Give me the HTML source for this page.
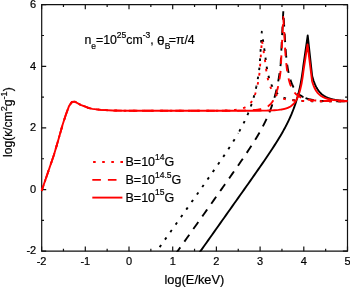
<!DOCTYPE html>
<html><head><meta charset="utf-8"><style>
html,body{margin:0;padding:0;background:#fff;}
svg{display:block;will-change:transform;}
text{font-family:"Liberation Sans",sans-serif;fill:#000;stroke:#000;stroke-width:0.2px;}
</style></head><body>
<svg width="350" height="287" viewBox="0 0 350 287">
<rect width="350" height="287" fill="#fff"/>
<defs><clipPath id="c"><rect x="40.6" y="4.7" width="307.9" height="247"/></clipPath></defs>
<path d="M41.7,4.7 H347.5 V251.2 H41.7 Z" fill="none" stroke="#111" stroke-width="1.2"/>
<path d="M41.60,251.2 v-4.6 M41.60,4.7 v4.6 M85.30,251.2 v-4.6 M85.30,4.7 v4.6 M129.00,251.2 v-4.6 M129.00,4.7 v4.6 M172.70,251.2 v-4.6 M172.70,4.7 v4.6 M216.40,251.2 v-4.6 M216.40,4.7 v4.6 M260.10,251.2 v-4.6 M260.10,4.7 v4.6 M303.80,251.2 v-4.6 M303.80,4.7 v4.6 M347.50,251.2 v-4.6 M347.50,4.7 v4.6 M63.45,251.2 v-2.4 M63.45,4.7 v2.4 M107.15,251.2 v-2.4 M107.15,4.7 v2.4 M150.85,251.2 v-2.4 M150.85,4.7 v2.4 M194.55,251.2 v-2.4 M194.55,4.7 v2.4 M238.25,251.2 v-2.4 M238.25,4.7 v2.4 M281.95,251.2 v-2.4 M281.95,4.7 v2.4 M325.65,251.2 v-2.4 M325.65,4.7 v2.4 M41.6,251.18 h4.6 M347.5,251.18 h-4.6 M41.6,189.56 h4.6 M347.5,189.56 h-4.6 M41.6,127.94 h4.6 M347.5,127.94 h-4.6 M41.6,66.32 h4.6 M347.5,66.32 h-4.6 M41.6,4.70 h4.6 M347.5,4.70 h-4.6 M41.6,220.37 h2.4 M347.5,220.37 h-2.4 M41.6,158.75 h2.4 M347.5,158.75 h-2.4 M41.6,97.13 h2.4 M347.5,97.13 h-2.4 M41.6,35.51 h2.4 M347.5,35.51 h-2.4" fill="none" stroke="#111" stroke-width="1.2"/>
<g clip-path="url(#c)" fill="none" stroke-width="1.9" stroke-linejoin="round">
<path d="M146.51,265.63 L148.15,263.32 L149.78,261.01 L151.42,258.70 L153.06,256.38 L154.70,254.07 L156.34,251.76 L157.98,249.45 L159.62,247.14 L161.26,244.83 L162.90,242.52 L164.54,240.20 L166.18,237.89 L167.81,235.58 L169.45,233.27 L171.09,230.96 L172.73,228.65 L174.37,226.33 L176.01,224.02 L177.65,221.71 L179.29,219.40 L180.93,217.09 L182.57,214.77 L184.21,212.46 L185.85,210.15 L187.48,207.83 L189.12,205.52 L190.76,203.20 L192.40,200.89 L194.04,198.57 L195.68,196.26 L197.32,193.94 L198.96,191.62 L200.60,189.30 L202.24,186.98 L203.88,184.65 L205.52,182.33 L207.15,180.00 L208.79,177.66 L210.43,175.33 L212.07,172.99 L213.71,170.64 L215.35,168.28 L216.99,165.92 L218.63,163.55 L220.27,161.17 L221.91,158.77 L223.55,156.36 L225.19,153.92 L226.82,151.47 L228.46,148.98 L230.10,146.47 L231.74,143.91 L233.38,141.31 L235.02,138.65 L236.66,135.93 L236.95,135.43 L237.24,134.94 L237.53,134.44 L237.82,133.94 L238.12,133.44 L238.25,133.21" stroke="#000" stroke-dasharray="2.6 6.6" stroke-dashoffset="4.89"/>
<path d="M238.25,133.21 L238.41,132.93 L238.70,132.42 L238.99,131.91 L239.28,131.40 L239.57,130.88 L239.86,130.35 L240.15,129.83 L240.44,129.30 L240.74,128.76 L241.03,128.23 L241.32,127.69 L241.61,127.14 L241.90,126.59 L242.19,126.03 L242.48,125.47 L242.77,124.91 L243.07,124.34 L243.36,123.76 L243.65,123.18 L243.94,122.59 L244.23,122.00 L244.52,121.40 L244.81,120.80 L245.10,120.18 L245.39,119.56 L245.69,118.94 L245.98,118.31 L246.27,117.66 L246.56,117.01 L246.85,116.36 L247.14,115.69 L247.43,115.02 L247.72,114.33 L248.02,113.64 L248.31,112.93 L248.60,112.22 L248.89,111.49 L249.18,110.75 L249.47,110.00 L249.76,109.24 L250.05,108.46 L250.35,107.67 L250.64,106.87 L250.93,106.05 L251.22,105.21 L251.51,104.36 L251.80,103.48 L252.09,102.59 L252.38,101.68 L252.67,100.75 L252.97,99.80 L253.26,98.82 L253.55,97.82 L253.84,96.79 L254.13,95.74 L254.42,94.65 L254.71,93.53 L255.00,92.38 L255.30,91.19 L255.59,89.96 L255.88,88.68 L256.17,87.36 L256.32,86.64" stroke="#000" stroke-dasharray="2.6 6.6" stroke-dashoffset="7.23"/>
<path d="M256.32,86.64 L256.46,85.99 L256.75,84.57 L257.04,83.08 L257.33,81.53 L257.62,79.90 L257.92,78.20 L258.21,76.40 L258.50,74.50 L258.79,72.48 L259.08,70.33 L259.37,68.03 L259.66,65.55 L261.80,31.81 L265.34,56.19 L265.64,59.10 L265.95,61.67 L266.25,63.98 L266.55,66.06 L266.85,67.96 L267.15,69.69 L267.45,71.28 L267.75,72.75 L268.05,74.12 L268.35,75.38 L268.65,76.57 L268.95,77.68 L269.25,78.72 L269.55,79.70 L269.85,80.62 L270.16,81.50 L270.46,82.32 L270.76,83.10 L271.06,83.84 L271.36,84.55 L271.66,85.21 L271.96,85.85 L272.26,86.46 L272.56,87.04 L272.86,87.59 L273.16,88.11 L273.46,88.62 L273.76,89.10 L274.06,89.56 L274.37,90.00 L274.67,90.42 L274.97,90.83 L275.27,91.21 L275.57,91.59 L275.87,91.94 L276.17,92.29 L276.47,92.62 L276.77,92.93 L277.07,93.23 L277.37,93.53 L277.67,93.81 L277.97,94.08 L278.27,94.34 L278.57,94.59 L278.88,94.83 L279.18,95.06 L279.48,95.28 L279.78,95.50 L280.08,95.70 L280.38,95.90 L280.68,96.09 L280.98,96.28 L281.28,96.45 L281.58,96.63 L281.88,96.79 L282.18,96.95 L282.48,97.10 L282.78,97.25 L283.09,97.39 L283.39,97.53 L283.69,97.67 L283.99,97.79 L284.29,97.92 L284.59,98.04 L284.89,98.15 L285.19,98.26 L285.49,98.37 L285.79,98.47 L286.09,98.57 L286.39,98.67 L286.69,98.76 L286.99,98.85 L287.30,98.94 L287.60,99.02 L287.90,99.10 L288.20,99.18 L288.50,99.25 L288.80,99.32 L289.10,99.39 L290.09,99.61 L291.08,99.80 L292.07,99.97 L293.06,100.12 L294.05,100.25 L295.04,100.37 L296.03,100.47 L297.02,100.57 L298.01,100.65 L299.00,100.73 L299.99,100.79 L300.98,100.85 L301.97,100.90 L302.96,100.95 L303.95,100.99 L304.94,101.02 L305.93,101.06 L306.92,101.08 L307.91,101.11 L308.90,101.13 L309.89,101.15 L310.88,101.17 L311.87,101.18 L312.86,101.19 L313.85,101.20 L314.84,101.21 L315.83,101.22 L316.81,101.23 L317.80,101.23 L318.79,101.24 L319.78,101.24 L320.77,101.25 L321.76,101.25 L322.75,101.25 L323.74,101.25 L324.73,101.26 L325.72,101.26 L326.71,101.26 L327.70,101.26 L328.69,101.26 L329.68,101.26 L330.67,101.26 L331.66,101.26 L332.65,101.26 L333.64,101.26 L334.63,101.26 L335.62,101.26 L336.61,101.26 L337.60,101.26 L338.59,101.25 L339.58,101.25 L340.57,101.25 L341.56,101.25 L342.55,101.25 L343.54,101.25 L344.53,101.25 L345.52,101.25 L346.51,101.25 L347.50,101.25" stroke="#000" stroke-dasharray="2.6 6.6" stroke-dashoffset="1.62"/>
<path d="M168.61,263.87 L170.42,261.31 L172.23,258.75 L174.05,256.19 L175.86,253.63 L177.68,251.08 L179.49,248.52 L181.31,245.96 L183.12,243.40 L184.93,240.84 L186.75,238.28 L188.56,235.72 L190.38,233.17 L192.19,230.61 L194.01,228.05 L195.82,225.49 L197.63,222.93 L199.45,220.37 L201.26,217.81 L203.08,215.25 L204.89,212.69 L206.71,210.13 L208.52,207.57 L210.34,205.01 L212.15,202.45 L213.96,199.88 L215.78,197.32 L217.59,194.75 L219.41,192.19 L221.22,189.62 L223.04,187.05 L224.85,184.48 L226.66,181.90 L228.48,179.32 L230.29,176.74 L232.11,174.15 L233.92,171.55 L235.74,168.95 L237.55,166.34 L239.37,163.71 L241.18,161.08 L242.99,158.42 L244.81,155.75 L246.62,153.04 L248.44,150.31 L250.25,147.55 L252.07,144.74 L253.88,141.87 L255.69,138.94 L257.51,135.93 L257.80,135.43 L258.09,134.93 L258.39,134.43 L258.68,133.93 L258.97,133.43 L259.27,132.92 L259.56,132.40 L259.85,131.89 L260.14,131.37 L260.44,130.85 L260.73,130.32 L261.02,129.79 L261.31,129.26 L261.61,128.72 L261.90,128.18 L262.19,127.64 L262.49,127.09 L262.78,126.53 L263.07,125.97 L263.36,125.41 L263.66,124.84 L263.95,124.27 L264.24,123.69 L264.54,123.10 L264.83,122.51 L265.12,121.91 L265.41,121.31 L265.71,120.70 L266.00,120.09 L266.29,119.46 L266.59,118.83 L266.88,118.19 L267.17,117.55 L267.46,116.89 L267.76,116.23 L268.05,115.56 L268.34,114.88 L268.63,114.19 L268.93,113.49 L269.22,112.77 L269.51,112.05 L269.81,111.32 L270.10,110.57 L270.39,109.82 L270.68,109.05 L270.98,108.26 L271.27,107.46 L271.56,106.65 L271.86,105.82 L272.15,104.98 L272.44,104.11 L272.73,103.23 L273.03,102.33 L273.32,101.41 L273.61,100.47 L273.90,99.50 L274.20,98.51 L274.49,97.50 L274.78,96.45 L275.08,95.38 L275.37,94.28 L275.66,93.14 L275.95,91.97 L276.25,90.76 L276.54,89.51 L276.83,88.21 L277.13,86.86 L277.17,86.64" stroke="#000" stroke-dasharray="8.5 7" stroke-dashoffset="3.76"/>
<path d="M277.17,86.64 L277.42,85.47 L277.71,84.01 L278.00,82.49 L278.30,80.90 L278.59,79.24 L278.88,77.49 L279.18,75.64 L279.47,73.68 L279.76,71.60 L280.05,69.38 L280.35,66.99 L280.64,64.40 L283.30,11.17 L285.23,43.36 L285.54,48.29 L285.85,52.40 L286.17,55.91 L286.48,58.97 L286.79,61.65 L287.11,64.05 L287.42,66.21 L287.73,68.16 L288.04,69.94 L288.36,71.58 L288.67,73.08 L288.98,74.47 L289.30,75.77 L289.61,76.98 L289.92,78.10 L290.23,79.16 L290.55,80.15 L290.86,81.08 L291.17,81.96 L291.49,82.80 L291.80,83.58 L292.11,84.33 L292.42,85.03 L292.74,85.70 L293.05,86.34 L293.36,86.95 L293.68,87.53 L293.99,88.08 L294.30,88.60 L294.62,89.10 L294.93,89.58 L295.24,90.04 L295.55,90.48 L295.87,90.89 L296.18,91.29 L296.49,91.68 L296.81,92.04 L297.12,92.40 L297.43,92.73 L297.74,93.06 L298.06,93.37 L298.37,93.67 L298.68,93.95 L299.00,94.23 L299.31,94.49 L299.62,94.75 L299.93,94.99 L300.25,95.22 L300.56,95.45 L300.87,95.67 L301.19,95.87 L301.50,96.07 L301.81,96.27 L302.13,96.45 L302.44,96.63 L302.75,96.80 L303.06,96.97 L303.38,97.13 L303.39,97.13" stroke="#000" stroke-dasharray="8.5 7" stroke-dashoffset="10.19"/>
<path d="M303.39,97.13 L303.69,97.28 L304.00,97.43 L304.32,97.57 L304.63,97.71 L304.94,97.84 L305.25,97.96 L305.57,98.09 L305.88,98.20 L306.19,98.32 L306.51,98.43 L306.82,98.53 L307.13,98.63 L307.45,98.73 L307.76,98.82 L308.07,98.92 L308.38,99.00 L308.70,99.09 L309.01,99.17 L309.32,99.25 L309.64,99.32 L309.95,99.39 L310.59,99.53 L311.22,99.66 L311.86,99.78 L312.49,99.90 L313.13,100.00 L313.77,100.10 L314.40,100.18 L315.04,100.27 L315.68,100.34 L316.31,100.42 L316.95,100.48 L317.59,100.54 L318.22,100.60 L318.86,100.65 L319.50,100.70 L320.13,100.75 L320.77,100.79 L321.40,100.83 L322.04,100.86 L322.68,100.89 L323.31,100.93 L323.95,100.95 L324.59,100.98 L325.22,101.00 L325.86,101.03 L326.50,101.05 L327.13,101.07 L327.77,101.08 L328.41,101.10 L329.04,101.11 L329.68,101.13 L330.32,101.14 L330.95,101.15 L331.59,101.16 L332.22,101.17 L332.86,101.18 L333.50,101.19 L334.13,101.20 L334.77,101.20 L335.41,101.21 L336.04,101.22 L336.68,101.22 L337.32,101.23 L337.95,101.23 L338.59,101.23 L339.23,101.24 L339.86,101.24 L340.50,101.24 L341.14,101.25 L341.77,101.25 L342.41,101.25 L343.04,101.25 L343.68,101.25 L344.32,101.25 L344.95,101.26 L345.59,101.26 L346.23,101.26 L346.86,101.26 L347.50,101.26" stroke="#000" stroke-dasharray="8.5 7" stroke-dashoffset="13.17"/>
<path d="M190.07,265.82 L192.08,262.99 L194.08,260.16 L196.09,257.33 L198.10,254.50 L200.10,251.67 L202.11,248.84 L204.12,246.01 L206.12,243.18 L208.13,240.36 L210.14,237.53 L212.14,234.70 L214.15,231.87 L216.16,229.04 L218.16,226.21 L220.17,223.38 L222.17,220.55 L224.18,217.72 L226.19,214.89 L228.19,212.05 L230.20,209.22 L232.21,206.39 L234.21,203.56 L236.22,200.72 L238.23,197.89 L240.23,195.05 L242.24,192.22 L244.24,189.38 L246.25,186.53 L248.26,183.69 L250.26,180.84 L252.27,177.98 L254.28,175.12 L256.28,172.26 L258.29,169.38 L260.30,166.49 L262.30,163.59 L264.31,160.67 L266.31,157.73 L268.32,154.76 L270.33,151.76 L272.33,148.72 L274.34,145.63 L276.35,142.48 L278.35,139.25 L280.36,135.93 L280.65,135.43 L280.94,134.94 L281.23,134.44 L281.52,133.94 L281.82,133.44 L282.11,132.93 L282.40,132.42 L282.69,131.91 L282.98,131.40 L283.27,130.88 L283.56,130.35 L283.85,129.83 L284.14,129.30 L284.44,128.76 L284.73,128.23 L285.02,127.69 L285.31,127.14 L285.60,126.59 L285.89,126.03 L286.18,125.47 L286.47,124.91 L286.77,124.34 L287.06,123.76 L287.35,123.18 L287.64,122.59 L287.93,122.00 L288.22,121.40 L288.51,120.80 L288.80,120.18 L289.09,119.56 L289.39,118.94 L289.68,118.31 L289.97,117.66 L290.26,117.01 L290.55,116.36 L290.84,115.69 L291.13,115.02 L291.42,114.33 L291.72,113.64 L292.01,112.93 L292.30,112.22 L292.59,111.49 L292.88,110.75 L293.17,110.00 L293.46,109.24 L293.75,108.46 L294.05,107.67 L294.34,106.87 L294.63,106.05 L294.92,105.21 L295.21,104.36 L295.50,103.48 L295.79,102.59 L296.08,101.68 L296.37,100.75 L296.67,99.80 L296.96,98.82 L297.25,97.82 L297.54,96.79 L297.83,95.74 L298.12,94.65 L298.41,93.53 L298.70,92.38 L299.00,91.19 L299.29,89.96 L299.58,88.68 L299.87,87.36 L300.16,85.99 L300.45,84.57 L300.74,83.08 L301.03,81.53 L301.32,79.90 L301.62,78.20 L301.91,76.40 L302.20,74.50 L302.49,72.48 L302.78,70.33 L303.07,68.03 L303.36,65.55 L307.73,35.51 L312.10,75.60 L312.36,76.62 L312.63,77.59 L312.89,78.50 L313.15,79.37 L313.41,80.20 L313.67,80.98 L313.94,81.72 L314.20,82.43 L314.46,83.11 L314.72,83.76 L314.98,84.38 L315.25,84.97 L315.51,85.54 L315.77,86.08 L316.03,86.60 L316.29,87.10 L316.56,87.58 L316.82,88.04 L317.08,88.48 L317.34,88.91 L317.60,89.32 L317.87,89.71 L318.13,90.09 L318.39,90.46 L318.65,90.81 L318.91,91.15 L319.18,91.47 L319.44,91.79 L319.70,92.10 L319.96,92.39 L320.22,92.67 L320.49,92.95 L320.75,93.21 L321.01,93.47 L321.27,93.71 L321.53,93.95 L321.80,94.18 L322.06,94.41 L322.32,94.62 L322.58,94.83 L322.84,95.03 L323.11,95.23 L323.37,95.42 L323.63,95.60 L323.89,95.78 L324.15,95.95 L324.42,96.12 L324.68,96.28 L324.94,96.43 L325.20,96.58 L325.46,96.73 L325.73,96.87 L325.99,97.00 L326.25,97.14 L326.51,97.27 L326.77,97.39 L327.04,97.51 L327.30,97.63 L327.56,97.74 L327.82,97.85 L328.08,97.96 L328.35,98.06 L328.61,98.16 L328.87,98.25 L329.13,98.35 L329.39,98.44 L329.66,98.53 L329.92,98.61 L330.18,98.69 L330.44,98.77 L330.70,98.85 L330.97,98.93 L331.23,99.00 L331.49,99.07 L331.75,99.14 L332.01,99.21 L332.28,99.27 L332.54,99.33 L332.80,99.39 L333.05,99.45 L333.30,99.50 L333.55,99.56 L333.80,99.61 L334.05,99.66 L334.29,99.71 L334.54,99.75 L334.79,99.80 L335.04,99.84 L335.29,99.89 L335.54,99.93 L335.79,99.97 L336.04,100.01 L336.29,100.05 L336.54,100.08 L336.79,100.12 L337.04,100.15 L337.28,100.19 L337.53,100.22 L337.78,100.25 L338.03,100.28 L338.28,100.31 L338.53,100.34 L338.78,100.37 L339.03,100.40 L339.28,100.43 L339.53,100.45 L339.78,100.48 L340.03,100.50 L340.27,100.53 L340.52,100.55 L340.77,100.57 L341.02,100.59 L341.27,100.62 L341.52,100.64 L341.77,100.66 L342.02,100.68 L342.27,100.69 L342.52,100.71 L342.77,100.73 L343.02,100.75 L343.26,100.76 L343.51,100.78 L343.76,100.80 L344.01,100.81 L344.26,100.83 L344.51,100.84 L344.76,100.85 L345.01,100.87 L345.26,100.88 L345.51,100.89 L345.76,100.91 L346.01,100.92 L346.25,100.93 L346.50,100.94 L346.75,100.95 L347.00,100.96 L347.25,100.97 L347.50,100.98" stroke="#000"/>
<path d="M41.60,191.00 L53.90,155.00 L58.30,140.00 L62.60,124.80 L66.00,114.30 L69.00,106.10 L72.00,101.90 L75.00,101.70 L80.60,104.90 L85.40,106.70 L88.30,107.90 L92.30,108.90 L100.90,109.90 L112.90,110.50 L130.00,110.80 L168.33,110.81 L169.45,110.81 L171.09,110.81 L172.73,110.81 L174.37,110.81 L176.01,110.81 L177.65,110.81 L179.29,110.81 L180.93,110.81 L182.57,110.81 L184.21,110.81 L185.85,110.81 L187.48,110.81 L189.12,110.80 L190.76,110.80 L192.40,110.80 L194.04,110.80 L195.68,110.80 L197.32,110.80 L198.96,110.79 L200.60,110.79 L202.24,110.79 L203.88,110.78 L205.52,110.77 L207.15,110.77 L208.79,110.76 L210.43,110.75 L212.07,110.74 L213.71,110.72 L215.35,110.71 L216.99,110.69 L218.63,110.66 L220.27,110.63 L221.91,110.60 L223.55,110.56 L225.19,110.51 L226.82,110.45 L228.46,110.37 L230.10,110.28 L231.74,110.17 L233.38,110.04 L235.02,109.87 L236.66,109.67 L236.95,109.63 L237.24,109.58 L237.53,109.54 L237.82,109.49 L238.12,109.44 L238.41,109.39 L238.70,109.34 L238.99,109.28 L239.28,109.23 L239.57,109.17 L239.86,109.11 L240.15,109.04 L240.44,108.97 L240.74,108.90 L241.03,108.83 L241.32,108.75 L241.61,108.67 L241.90,108.59 L242.19,108.50 L242.48,108.41 L242.77,108.31 L243.07,108.21 L243.36,108.11 L243.65,108.00 L243.94,107.89 L244.23,107.77 L244.52,107.64 L244.81,107.51 L245.10,107.37 L245.39,107.23 L245.69,107.08 L245.98,106.92 L246.27,106.75 L246.56,106.58 L246.85,106.40 L247.14,106.20 L247.43,106.00 L247.72,105.79 L248.02,105.57 L248.31,105.33 L248.60,105.08 L248.89,104.83 L249.18,104.55 L249.47,104.27 L249.76,103.96 L250.05,103.64 L250.35,103.31 L250.64,102.95 L250.93,102.58 L251.22,102.19 L251.51,101.77 L251.80,101.34 L252.09,100.88 L252.38,100.39 L252.67,99.87 L252.97,99.33 L253.26,98.76 L253.55,98.15 L253.84,97.51 L254.13,96.83 L254.42,96.12 L254.71,95.36 L255.00,94.55 L255.30,93.70 L255.59,92.80 L255.88,91.85 L256.17,90.83 L256.32,90.27" stroke="#f00" stroke-dasharray="2.6 6.6" stroke-dashoffset="8.70"/>
<path d="M256.32,90.27 L256.46,89.76 L256.75,88.61 L257.04,87.40 L257.33,86.10 L257.62,84.71 L257.92,83.24 L258.21,81.65 L258.50,79.95 L258.79,78.12 L259.08,76.15 L259.37,74.00 L259.66,71.67 L261.94,40.13 L265.34,62.78 L265.64,65.61 L265.95,68.10 L266.25,70.32 L266.55,72.31 L266.85,74.10 L267.15,75.73 L267.45,77.21 L267.75,78.57 L268.05,79.83 L268.35,80.98 L268.65,82.05 L268.95,83.04 L269.25,83.96 L269.55,84.82 L269.85,85.63 L270.16,86.38 L270.46,87.08 L270.76,87.75 L271.06,88.37 L271.36,88.95 L271.66,89.50 L271.96,90.03 L272.26,90.52 L272.56,90.98 L272.86,91.42 L273.16,91.84 L273.46,92.24 L273.76,92.61 L274.06,92.97 L274.37,93.30 L274.67,93.63 L274.97,93.93 L275.27,94.22 L275.57,94.50 L275.87,94.77 L276.17,95.02 L276.47,95.26 L276.77,95.49 L277.07,95.71 L277.37,95.92 L277.67,96.12 L277.97,96.31 L278.27,96.50 L278.57,96.67 L278.88,96.84 L279.18,97.00 L279.48,97.16 L279.78,97.31 L280.08,97.45 L280.38,97.58 L280.68,97.72 L280.98,97.84 L281.28,97.96 L281.58,98.08 L281.88,98.19 L282.18,98.30 L282.48,98.40 L282.78,98.50 L283.09,98.59 L283.39,98.68 L283.69,98.77 L283.99,98.86 L284.29,98.94 L284.59,99.02 L284.89,99.09 L285.19,99.16 L285.49,99.24 L285.79,99.30 L286.09,99.37 L286.39,99.43 L286.69,99.49 L286.99,99.55 L287.30,99.61 L287.60,99.66 L287.90,99.71 L288.20,99.76 L288.50,99.81 L288.80,99.86 L289.10,99.90 L290.09,100.04 L291.08,100.16 L292.07,100.27 L293.06,100.37 L294.05,100.46 L295.04,100.54 L296.03,100.61 L297.02,100.67 L298.01,100.73 L299.00,100.78 L299.99,100.82 L300.98,100.86 L301.97,100.90 L302.96,100.93 L303.95,100.96 L304.94,100.99 L305.93,101.01 L306.92,101.04 L307.91,101.05 L308.90,101.07 L309.89,101.09 L310.88,101.10 L311.87,101.11 L312.86,101.13 L313.85,101.14 L314.84,101.14 L315.83,101.15 L316.81,101.16 L317.80,101.17 L318.79,101.17 L319.78,101.18 L320.77,101.18 L321.76,101.19 L322.75,101.19 L323.74,101.20 L324.73,101.20 L325.72,101.20 L326.71,101.20 L327.70,101.21 L328.69,101.21 L329.68,101.21 L330.67,101.21 L331.66,101.21 L332.65,101.22 L333.64,101.22 L334.63,101.22 L335.62,101.22 L336.61,101.22 L337.60,101.22 L338.59,101.22 L339.58,101.22 L340.57,101.22 L341.56,101.22 L342.55,101.22 L343.54,101.22 L344.53,101.22 L345.52,101.22 L346.51,101.22 L347.50,101.23" stroke="#f00" stroke-dasharray="2.6 6.6" stroke-dashoffset="3.39"/>
<path d="M41.60,191.00 L53.90,155.00 L58.30,140.00 L62.60,124.80 L66.00,114.30 L69.00,106.10 L72.00,101.90 L75.00,101.70 L80.60,104.90 L85.40,106.70 L88.30,107.90 L92.30,108.90 L100.90,109.90 L112.90,110.50 L130.00,110.80 L168.33,110.81 L168.61,110.81 L170.42,110.81 L172.23,110.81 L174.05,110.81 L175.86,110.81 L177.68,110.81 L179.49,110.81 L181.31,110.81 L183.12,110.81 L184.93,110.81 L186.75,110.81 L188.56,110.81 L190.38,110.81 L192.19,110.81 L194.01,110.81 L195.82,110.81 L197.63,110.81 L199.45,110.81 L201.26,110.81 L203.08,110.81 L204.89,110.81 L206.71,110.81 L208.52,110.81 L210.34,110.80 L212.15,110.80 L213.96,110.80 L215.78,110.80 L217.59,110.80 L219.41,110.79 L221.22,110.79 L223.04,110.79 L224.85,110.78 L226.66,110.77 L228.48,110.77 L230.29,110.76 L232.11,110.74 L233.92,110.73 L235.74,110.71 L237.55,110.69 L239.37,110.66 L241.18,110.63 L242.99,110.59 L244.81,110.55 L246.62,110.49 L248.44,110.41 L250.25,110.32 L252.07,110.21 L253.88,110.07 L255.69,109.89 L257.51,109.67 L257.80,109.63 L258.09,109.58 L258.39,109.54 L258.68,109.49 L258.97,109.44 L259.27,109.39 L259.56,109.34 L259.85,109.28 L260.14,109.22 L260.44,109.16 L260.73,109.10 L261.02,109.04 L261.31,108.97 L261.61,108.90 L261.90,108.82 L262.19,108.75 L262.49,108.67 L262.78,108.58 L263.07,108.49 L263.36,108.40 L263.66,108.30 L263.95,108.20 L264.24,108.10 L264.54,107.99 L264.83,107.87 L265.12,107.75 L265.41,107.62 L265.71,107.49 L266.00,107.35 L266.29,107.20 L266.59,107.05 L266.88,106.89 L267.17,106.72 L267.46,106.54 L267.76,106.36 L268.05,106.16 L268.34,105.96 L268.63,105.74 L268.93,105.52 L269.22,105.28 L269.51,105.03 L269.81,104.76 L270.10,104.49 L270.39,104.19 L270.68,103.89 L270.98,103.56 L271.27,103.22 L271.56,102.86 L271.86,102.48 L272.15,102.08 L272.44,101.65 L272.73,101.21 L273.03,100.74 L273.32,100.24 L273.61,99.71 L273.90,99.16 L274.20,98.57 L274.49,97.95 L274.78,97.29 L275.08,96.60 L275.37,95.87 L275.66,95.09 L275.95,94.26 L276.25,93.39 L276.54,92.47 L276.83,91.49 L277.13,90.44 L277.17,90.27" stroke="#f00" stroke-dasharray="8.5 7" stroke-dashoffset="2.15"/>
<path d="M277.17,90.27 L277.42,89.34 L277.71,88.16 L278.00,86.90 L278.30,85.57 L278.59,84.14 L278.88,82.61 L279.18,80.97 L279.47,79.21 L279.76,77.32 L280.05,75.26 L280.35,73.03 L280.64,70.58 L283.30,17.02 L285.23,50.14 L285.54,55.02 L285.85,59.07 L286.17,62.51 L286.48,65.48 L286.79,68.08 L287.11,70.39 L287.42,72.44 L287.73,74.29 L288.04,75.97 L288.36,77.49 L288.67,78.88 L288.98,80.15 L289.30,81.33 L289.61,82.41 L289.92,83.42 L290.23,84.35 L290.55,85.22 L290.86,86.02 L291.17,86.78 L291.49,87.49 L291.80,88.15 L292.11,88.77 L292.42,89.36 L292.74,89.91 L293.05,90.42 L293.36,90.91 L293.68,91.37 L293.99,91.81 L294.30,92.22 L294.62,92.61 L294.93,92.98 L295.24,93.33 L295.55,93.67 L295.87,93.98 L296.18,94.28 L296.49,94.57 L296.81,94.84 L297.12,95.10 L297.43,95.35 L297.74,95.58 L298.06,95.81 L298.37,96.02 L298.68,96.23 L299.00,96.42 L299.31,96.61 L299.62,96.78 L299.93,96.95 L300.25,97.12 L300.56,97.27 L300.87,97.42 L301.19,97.57 L301.50,97.70 L301.81,97.83 L302.13,97.96 L302.44,98.08 L302.75,98.20 L303.06,98.31 L303.38,98.41 L303.39,98.42" stroke="#f00" stroke-dasharray="8.5 7" stroke-dashoffset="4.25"/>
<path d="M303.39,98.42 L303.69,98.52 L304.00,98.61 L304.32,98.71 L304.63,98.80 L304.94,98.89 L305.25,98.97 L305.57,99.05 L305.88,99.13 L306.19,99.20 L306.51,99.27 L306.82,99.34 L307.13,99.41 L307.45,99.47 L307.76,99.53 L308.07,99.59 L308.38,99.65 L308.70,99.70 L309.01,99.76 L309.32,99.81 L309.64,99.86 L309.95,99.90 L310.59,99.99 L311.22,100.08 L311.86,100.16 L312.49,100.23 L313.13,100.30 L313.77,100.36 L314.40,100.42 L315.04,100.47 L315.68,100.52 L316.31,100.57 L316.95,100.61 L317.59,100.66 L318.22,100.69 L318.86,100.73 L319.50,100.76 L320.13,100.79 L320.77,100.82 L321.40,100.85 L322.04,100.87 L322.68,100.90 L323.31,100.92 L323.95,100.94 L324.59,100.96 L325.22,100.98 L325.86,100.99 L326.50,101.01 L327.13,101.02 L327.77,101.04 L328.41,101.05 L329.04,101.06 L329.68,101.07 L330.32,101.08 L330.95,101.09 L331.59,101.10 L332.22,101.11 L332.86,101.12 L333.50,101.12 L334.13,101.13 L334.77,101.14 L335.41,101.14 L336.04,101.15 L336.68,101.15 L337.32,101.16 L337.95,101.16 L338.59,101.17 L339.23,101.17 L339.86,101.17 L340.50,101.18 L341.14,101.18 L341.77,101.18 L342.41,101.19 L343.04,101.19 L343.68,101.19 L344.32,101.19 L344.95,101.20 L345.59,101.20 L346.23,101.20 L346.86,101.20 L347.50,101.20" stroke="#f00" stroke-dasharray="8.5 7" stroke-dashoffset="10.93"/>
<path d="M41.60,191.00 L53.90,155.00 L58.30,140.00 L62.60,124.80 L66.00,114.30 L69.00,106.10 L72.00,101.90 L75.00,101.70 L80.60,104.90 L85.40,106.70 L88.30,107.90 L92.30,108.90 L100.90,109.90 L112.90,110.50 L130.00,110.80 L168.33,110.81 L170.01,110.81 L172.01,110.81 L174.02,110.81 L176.03,110.81 L178.03,110.81 L180.04,110.81 L182.05,110.81 L184.05,110.81 L186.06,110.81 L188.07,110.81 L190.07,110.81 L192.08,110.81 L194.08,110.81 L196.09,110.81 L198.10,110.81 L200.10,110.81 L202.11,110.81 L204.12,110.81 L206.12,110.81 L208.13,110.81 L210.14,110.81 L212.14,110.81 L214.15,110.81 L216.16,110.81 L218.16,110.81 L220.17,110.81 L222.17,110.81 L224.18,110.81 L226.19,110.81 L228.19,110.81 L230.20,110.81 L232.21,110.80 L234.21,110.80 L236.22,110.80 L238.23,110.80 L240.23,110.80 L242.24,110.79 L244.24,110.79 L246.25,110.78 L248.26,110.78 L250.26,110.77 L252.27,110.76 L254.28,110.75 L256.28,110.73 L258.29,110.72 L260.30,110.69 L262.30,110.66 L264.31,110.63 L266.31,110.58 L268.32,110.53 L270.33,110.45 L272.33,110.36 L274.34,110.25 L276.35,110.10 L278.35,109.91 L280.36,109.67 L280.65,109.63 L280.94,109.58 L281.23,109.54 L281.52,109.49 L281.82,109.44 L282.11,109.39 L282.40,109.34 L282.69,109.28 L282.98,109.23 L283.27,109.17 L283.56,109.11 L283.85,109.04 L284.14,108.97 L284.44,108.90 L284.73,108.83 L285.02,108.75 L285.31,108.67 L285.60,108.59 L285.89,108.50 L286.18,108.41 L286.47,108.31 L286.77,108.21 L287.06,108.11 L287.35,108.00 L287.64,107.89 L287.93,107.77 L288.22,107.64 L288.51,107.51 L288.80,107.37 L289.09,107.23 L289.39,107.08 L289.68,106.92 L289.97,106.75 L290.26,106.58 L290.55,106.40 L290.84,106.20 L291.13,106.00 L291.42,105.79 L291.72,105.57 L292.01,105.33 L292.30,105.08 L292.59,104.83 L292.88,104.55 L293.17,104.27 L293.46,103.96 L293.75,103.64 L294.05,103.31 L294.34,102.95 L294.63,102.58 L294.92,102.19 L295.21,101.77 L295.50,101.34 L295.79,100.88 L296.08,100.39 L296.37,99.87 L296.67,99.33 L296.96,98.76 L297.25,98.15 L297.54,97.51 L297.83,96.83 L298.12,96.12 L298.41,95.36 L298.70,94.55 L299.00,93.70 L299.29,92.80 L299.58,91.85 L299.87,90.83 L300.16,89.76 L300.45,88.61 L300.74,87.40 L301.03,86.10 L301.32,84.71 L301.62,83.24 L301.91,81.65 L302.20,79.95 L302.49,78.12 L302.78,76.15 L303.07,74.00 L303.36,71.67 L307.51,44.44 L312.10,81.17 L312.36,82.09 L312.63,82.96 L312.89,83.77 L313.15,84.54 L313.41,85.26 L313.67,85.93 L313.94,86.58 L314.20,87.18 L314.46,87.75 L314.72,88.30 L314.98,88.81 L315.25,89.30 L315.51,89.77 L315.77,90.21 L316.03,90.63 L316.29,91.03 L316.56,91.42 L316.82,91.78 L317.08,92.13 L317.34,92.46 L317.60,92.78 L317.87,93.08 L318.13,93.37 L318.39,93.65 L318.65,93.92 L318.91,94.17 L319.18,94.42 L319.44,94.65 L319.70,94.88 L319.96,95.10 L320.22,95.30 L320.49,95.50 L320.75,95.69 L321.01,95.88 L321.27,96.06 L321.53,96.23 L321.80,96.39 L322.06,96.55 L322.32,96.70 L322.58,96.84 L322.84,96.99 L323.11,97.12 L323.37,97.25 L323.63,97.38 L323.89,97.50 L324.15,97.62 L324.42,97.73 L324.68,97.84 L324.94,97.95 L325.20,98.05 L325.46,98.15 L325.73,98.24 L325.99,98.33 L326.25,98.42 L326.51,98.51 L326.77,98.59 L327.04,98.67 L327.30,98.75 L327.56,98.82 L327.82,98.89 L328.08,98.96 L328.35,99.03 L328.61,99.10 L328.87,99.16 L329.13,99.22 L329.39,99.28 L329.66,99.34 L329.92,99.39 L330.18,99.45 L330.44,99.50 L330.70,99.55 L330.97,99.60 L331.23,99.65 L331.49,99.69 L331.75,99.74 L332.01,99.78 L332.28,99.82 L332.54,99.86 L332.80,99.90 L333.05,99.94 L333.30,99.97 L333.55,100.01 L333.80,100.04 L334.05,100.07 L334.29,100.11 L334.54,100.14 L334.79,100.17 L335.04,100.20 L335.29,100.22 L335.54,100.25 L335.79,100.28 L336.04,100.30 L336.29,100.33 L336.54,100.35 L336.79,100.38 L337.04,100.40 L337.28,100.42 L337.53,100.44 L337.78,100.46 L338.03,100.48 L338.28,100.50 L338.53,100.52 L338.78,100.54 L339.03,100.56 L339.28,100.58 L339.53,100.60 L339.78,100.61 L340.03,100.63 L340.27,100.64 L340.52,100.66 L340.77,100.68 L341.02,100.69 L341.27,100.70 L341.52,100.72 L341.77,100.73 L342.02,100.74 L342.27,100.76 L342.52,100.77 L342.77,100.78 L343.02,100.79 L343.26,100.81 L343.51,100.82 L343.76,100.83 L344.01,100.84 L344.26,100.85 L344.51,100.86 L344.76,100.87 L345.01,100.88 L345.26,100.89 L345.51,100.90 L345.76,100.90 L346.01,100.91 L346.25,100.92 L346.50,100.93 L346.75,100.94 L347.00,100.94 L347.25,100.95 L347.50,100.96" stroke="#f00"/>
</g>
<g font-size="11">
<text x="41.60" y="264.9" text-anchor="middle">-2</text><text x="85.30" y="264.9" text-anchor="middle">-1</text><text x="129.00" y="264.9" text-anchor="middle">0</text><text x="172.70" y="264.9" text-anchor="middle">1</text><text x="216.40" y="264.9" text-anchor="middle">2</text><text x="260.10" y="264.9" text-anchor="middle">3</text><text x="303.80" y="264.9" text-anchor="middle">4</text><text x="347.50" y="264.9" text-anchor="middle">5</text>
<text x="36.2" y="254.38" text-anchor="end">-2</text><text x="36.2" y="192.76" text-anchor="end">0</text><text x="36.2" y="131.14" text-anchor="end">2</text><text x="36.2" y="69.52" text-anchor="end">4</text><text x="36.2" y="7.90" text-anchor="end">6</text>
</g>
<g font-size="12.5">
<text x="84.4" y="44.2" font-size="12.3">n<tspan font-size="8.5" dy="4.8">e</tspan><tspan dy="-4.8">=10</tspan><tspan font-size="8.5" dy="-6">25</tspan><tspan dy="6">cm</tspan><tspan font-size="8.5" dy="-6">-3</tspan><tspan dy="6">, </tspan><tspan font-size="13.6" dy="0.6">θ</tspan><tspan font-size="8.5" dy="4.6">B</tspan><tspan dy="-5.2" dx="-1.6">=π/4</tspan></text>
<text x="125.5" y="166.3">B=10<tspan font-size="8.5" dy="-6.2">14</tspan><tspan dy="6.2">G</tspan></text>
<text x="125.5" y="184.3">B=10<tspan font-size="8.5" dy="-6.2">14.5</tspan><tspan dy="6.2">G</tspan></text>
<text x="125.5" y="201.5">B=10<tspan font-size="8.5" dy="-6.2">15</tspan><tspan dy="6.2">G</tspan></text>
<text x="164.5" y="284" textLength="59.8" lengthAdjust="spacingAndGlyphs">log(E/keV)</text>
<text transform="translate(12.2,157.0) rotate(-90)" font-size="12.1">log(κ/cm<tspan font-size="9.2" dy="-5.6">2</tspan><tspan dy="5.6">g</tspan><tspan font-size="9.2" dy="-5.6">-1</tspan><tspan dy="5.6">)</tspan></text>
</g>
<g stroke="#f00" stroke-width="1.9" fill="none">
<path d="M93.1,162 H124" stroke-dasharray="2.6 6.5"/>
<path d="M92.3,179.9 H123" stroke-dasharray="8.6 7"/>
<path d="M92.3,197.6 H122.4"/>
</g>
</svg>
</body></html>
